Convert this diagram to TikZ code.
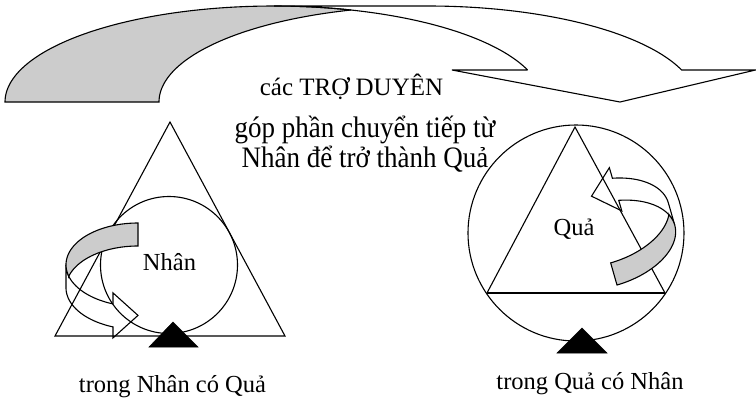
\documentclass[tikz,border=0pt]{standalone}
\usepackage{graphicx}
\usepackage{fontspec}
\setmainfont{Liberation Serif}
\definecolor{backgray}{RGB}{204,204,204}
\newcommand{\localarrow}{%
  \path[frontpart] plot[domain=180:110.32, samples=60] ({72*cos(\x)},{41.75+41.75*sin(\x)})
     -- (-25,69.9) -- (0,92.4) -- (-25,114.9) -- (-25,103.9)
     -- plot[domain=110.32:180, samples=60] ({72*cos(\x)},{64.75+41.75*sin(\x)}) -- cycle;
  \path[backpart] plot[domain=270:164.01, samples=60] ({72*cos(\x)},{41.75+41.75*sin(\x)})
     -- plot[domain=195.99:270, samples=60] ({72*cos(\x)},{64.75+41.75*sin(\x)}) -- cycle;
}
\begin{document}
\begin{tikzpicture}[x=1pt,y=-1pt,
  outline/.style={draw=black, line width=1.1pt, line join=miter},
  backpart/.style={outline, fill=backgray},
  frontpart/.style={outline},
  blackmark/.style={fill=black, draw=black, line width=0.5pt},
  lbl/.style={font=\fontsize{24.5}{28}\selectfont, anchor=base, inner sep=0pt},
  lblb/.style={font=\fontsize{27}{30}\selectfont, anchor=base, inner sep=0pt},
]
\useasboundingbox (0,0) rectangle (756,405);

% big curved arrow at the top
\path[backpart] plot[domain=180:286.63, samples=90] ({274+269*cos(\x)},{102+96*sin(\x)})
   -- plot[domain=253.37:180, samples=90] ({428+269*cos(\x)},{102+96*sin(\x)}) -- cycle;
\path[frontpart] (620,102) -- (452,70) -- (527.6,70)
   -- plot[domain=340.53:270, samples=90] ({274+269*cos(\x)},{102+96*sin(\x)})
   -- plot[domain=270:340.53, samples=90] ({428+269*cos(\x)},{102+96*sin(\x)})
   -- (755.5,70) -- cycle;

\node[lbl, font=\fontsize{25}{28}\selectfont] (troduyen) at (351.5,95.5) {các TRỢ DUYÊN};
\node[lblb] (gop) at (365,137.8) {\scalebox{1}[1.1]{góp phần chuyển tiếp từ}};
\node[lblb] (nhande) at (365,167.5) {\scalebox{1}[1.1]{Nhân để trở thành Quả}};

% left figure
\draw[outline] (170,122) -- (55,336) -- (285,336) -- cycle;
\draw[outline] (169,265) circle[radius=68.5];
\begin{scope}[shift={(138,223)}]
  \localarrow
\end{scope}
\path[blackmark] (149,347) -- (198,347) -- (173,322) -- cycle;
\node[lbl] (nhan) at (169.5,270) {Nhân};
\node[lbl] (lcap) at (172.5,392.3) {trong Nhân có Quả};

% right figure
\draw[outline] (576,233) circle[radius=108];
\draw[outline] (575,127) -- (487,293) -- (665,293) -- cycle;
\draw[outline, line width=1.5pt] (487,293) -- (665,293);
\begin{scope}[shift={(617,285)}, rotate=-164]
  \localarrow
\end{scope}
\path[blackmark] (557,353) -- (607,353) -- (582,328) -- cycle;
\node[lbl] (qua) at (574,235) {Quả};
\node[lbl] (rcap) at (590,389.5) {trong Quả có Nhân};
\end{tikzpicture}
\end{document}
